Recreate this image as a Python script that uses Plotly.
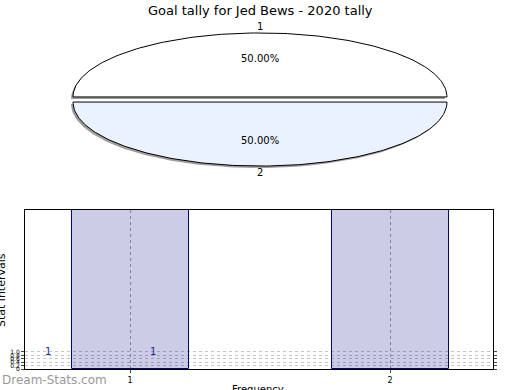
import numpy as np
import plotly.graph_objects as go

title = "Goal tally for Jed Bews - 2020 tally"
pie_labels = ["1", "2"]
pie_values = [1, 1]
pie_colors = ["#ffffff", "#eaf1ff"]

bar_categories = [1, 2]
bar_counts = [1, 1]
bar_tops = [10, 10]  # bars run past the top of the visible axis in the reference
ytick_vals = [0, 0.2, 0.4, 0.6, 0.8, 1.0]
ytick_text = ["0", "0.2", "0.4", "0.6", "0.8", "1.0"]

W, H = 520, 390
FONT = "DejaVu Sans"

fig = go.Figure()

# ---------- bar chart (x / y) ----------
fig.add_trace(go.Bar(
    x=bar_categories, y=bar_tops, width=0.45,
    marker=dict(color="rgba(0,0,128,0.2)", line=dict(color="#000080", width=1)),
    hoverinfo="skip", showlegend=False,
))

# ---------- elliptical exploded pie (x2 / y2 in pixel units) ----------
cx, cy, rx, ry = 260.0, 99.5, 187.0, 64.0
explode = 0.04
total = float(sum(pie_values))
start = 0.0
shapes_data = []
for lab, val, col in zip(pie_labels, pie_values, pie_colors):
    span = 360.0 * val / total
    a0, a1 = start, start + span
    mid = np.radians((a0 + a1) / 2)
    ox = cx + explode * rx * np.cos(mid)
    oy = cy - explode * ry * np.sin(mid)
    t = np.radians(np.linspace(a0, a1, 160))
    px = np.concatenate([[ox], ox + rx * np.cos(t), [ox]])
    py = np.concatenate([[oy], oy - ry * np.sin(t), [oy]])
    shapes_data.append((lab, val, col, px, py, ox, oy, mid))
    start = a1

for lab, val, col, px, py, ox, oy, mid in shapes_data:
    fig.add_trace(go.Scatter(
        x=px - 2, y=py + 2, xaxis="x2", yaxis="y2", mode="lines",
        fill="toself", fillcolor="rgba(0,0,0,0.38)", line=dict(width=0, color="rgba(0,0,0,0)"),
        hoverinfo="skip", showlegend=False,
    ))
for lab, val, col, px, py, ox, oy, mid in shapes_data:
    fig.add_trace(go.Scatter(
        x=px, y=py, xaxis="x2", yaxis="y2", mode="lines",
        fill="toself", fillcolor=col, line=dict(width=1, color="black"),
        hoverinfo="skip", showlegend=False,
    ))

annotations = []
for lab, val, col, px, py, ox, oy, mid in shapes_data:
    annotations.append(dict(
        x=ox + 1.1 * rx * np.cos(mid), y=oy - 1.1 * ry * np.sin(mid),
        xref="x2", yref="y2", text=lab, showarrow=False,
        font=dict(family=FONT, size=10, color="black"),
    ))
    annotations.append(dict(
        x=ox + 0.6 * rx * np.cos(mid), y=oy - 0.6 * ry * np.sin(mid),
        xref="x2", yref="y2", text="%.2f%%" % (100.0 * val / total), showarrow=False,
        font=dict(family=FONT, size=10, color="black"),
    ))

# bar value labels
label_x = [bar_categories[0] - 0.315, bar_categories[0] + 0.09]
for lx, c in zip(label_x, bar_counts):
    annotations.append(dict(
        x=lx, y=c, xref="x", yref="y", text=str(c), showarrow=False,
        font=dict(family=FONT, size=10, color="#1f1f9f"),
    ))

annotations += [
    dict(x=0.5, y=1 - 10 / H, xref="paper", yref="paper", text=title, showarrow=False,
         font=dict(family=FONT, size=13, color="black"), xanchor="center", yanchor="middle"),
    dict(x=0, y=1 - 380 / H, xref="paper", yref="paper", text="Dream-Stats.com", showarrow=False,
         font=dict(family=FONT, size=12, color="#999999"), xanchor="left", yanchor="middle"),
    dict(x=258 / W, y=1 - 389 / H, xref="paper", yref="paper", text="Frequency", showarrow=False,
         font=dict(family=FONT, size=10, color="black"), xanchor="center", yanchor="middle"),
    dict(x=1 / W, y=1 - 290 / H, xref="paper", yref="paper", text="Stat intervals", showarrow=False,
         textangle=-90, font=dict(family=FONT, size=11, color="black"),
         xanchor="center", yanchor="middle"),
]

fig.update_layout(
    width=W, height=H, margin=dict(l=0, r=0, t=0, b=0),
    paper_bgcolor="white", plot_bgcolor="rgba(0,0,0,0)",
    font=dict(family=FONT, color="black"),
    bargap=0,
    xaxis=dict(domain=[25 / W, 493 / W], range=[0.596, 2.396],
               tickvals=bar_categories, ticktext=[str(c) for c in bar_categories],
               tickfont=dict(size=8, color="black"), ticks="outside", ticklen=3,
               showgrid=True, gridcolor="#a0a0a0", griddash="dot", gridwidth=1,
               showline=True, linecolor="black", mirror=True, zeroline=False,
               anchor="y", fixedrange=True, automargin=False),
    yaxis=dict(domain=[(H - 369) / H, (H - 210) / H], range=[0, 9.35],
               tickvals=ytick_vals, ticktext=ytick_text, tickfont=dict(size=6, color="black"),
               ticks="outside", ticklen=3,
               showgrid=True, gridcolor="#c4c4c4", griddash="dot", gridwidth=1,
               showline=True, linecolor="black", mirror="ticks", zeroline=False,
               anchor="x", fixedrange=True, automargin=False),
    xaxis2=dict(domain=[0, 1], range=[0, W], visible=False, anchor="y2", fixedrange=True),
    yaxis2=dict(domain=[0, 1], range=[H, 0], visible=False, anchor="x2", fixedrange=True),
    annotations=annotations,
)

fig.write_html(
    "out.html",
    config={"displayModeBar": False},
    post_script="document.body.style.margin='0';document.body.style.padding='0';",
)
